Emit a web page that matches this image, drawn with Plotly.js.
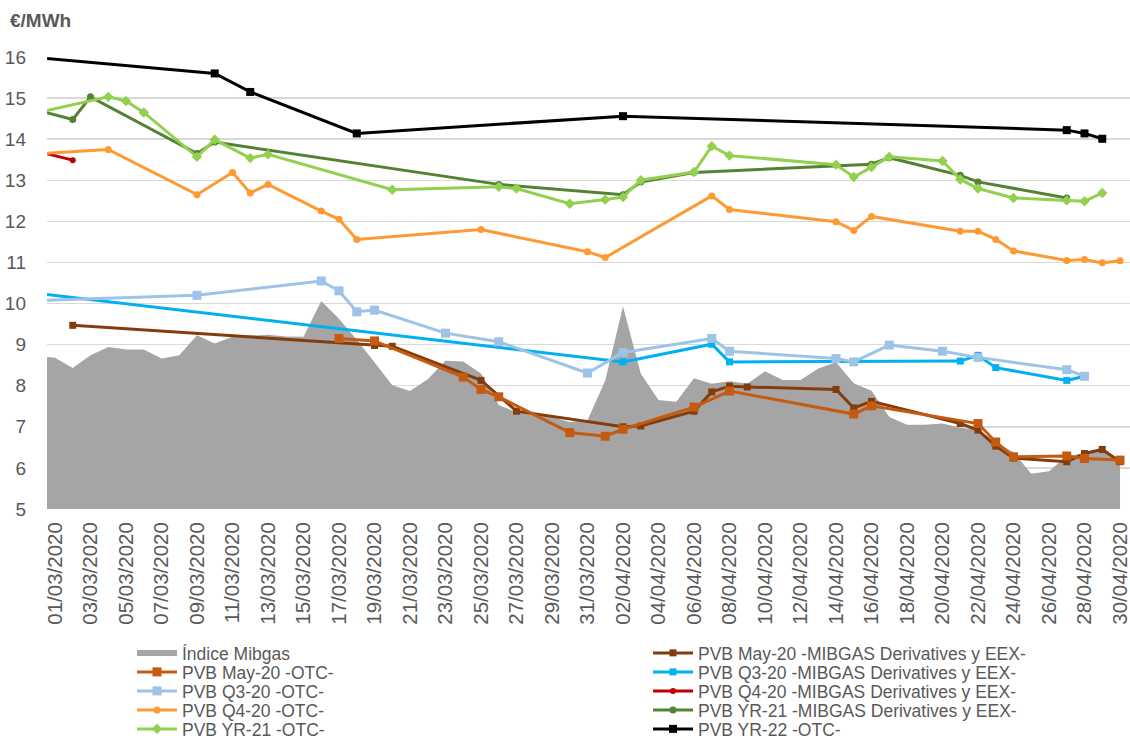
<!DOCTYPE html>
<html>
<head>
<meta charset="utf-8">
<script src="https://cdn.plot.ly/plotly-3.0.1.min.js"></script>
<style>html,body{margin:0;padding:0;background:#fff;}#chart{width:1130px;height:742px;}</style>
</head>
<body>
<div id="chart"></div>
<script>
// ---- Data ----
const mibgasDates = ['2020-02-29','2020-03-01','2020-03-02','2020-03-03','2020-03-04','2020-03-05','2020-03-06','2020-03-07','2020-03-08','2020-03-09','2020-03-10','2020-03-11','2020-03-12','2020-03-13','2020-03-14','2020-03-15','2020-03-16','2020-03-17','2020-03-18','2020-03-19','2020-03-20','2020-03-21','2020-03-22','2020-03-23','2020-03-24','2020-03-25','2020-03-26','2020-03-27','2020-03-28','2020-03-29','2020-03-30','2020-03-31','2020-04-01','2020-04-02','2020-04-03','2020-04-04','2020-04-05','2020-04-06','2020-04-07','2020-04-08','2020-04-09','2020-04-10','2020-04-11','2020-04-12','2020-04-13','2020-04-14','2020-04-15','2020-04-16','2020-04-17','2020-04-18','2020-04-19','2020-04-20','2020-04-21','2020-04-22','2020-04-23','2020-04-24','2020-04-25','2020-04-26','2020-04-27','2020-04-28','2020-04-29','2020-04-30'];
const mibgasValues = [8.72,8.68,8.43,8.74,8.94,8.88,8.88,8.66,8.74,9.23,9.03,9.19,9.22,9.24,9.20,9.19,10.06,9.63,9.12,8.57,8.01,7.87,8.16,8.61,8.59,8.30,7.53,7.36,7.32,7.24,7.12,7.16,8.13,9.93,8.30,7.65,7.61,8.18,8.05,8.11,8.05,8.35,8.14,8.14,8.42,8.57,8.06,7.88,7.24,7.05,7.05,7.08,6.98,6.93,6.63,6.38,5.86,5.92,6.29,6.35,6.40,6.21];

const may20MibgasDates = ['2020-03-02','2020-03-19','2020-03-20','2020-03-25','2020-03-27','2020-04-02','2020-04-03','2020-04-06','2020-04-07','2020-04-08','2020-04-09','2020-04-14','2020-04-15','2020-04-16','2020-04-21','2020-04-22','2020-04-23','2020-04-24','2020-04-27','2020-04-28','2020-04-29','2020-04-30'];
const may20MibgasValues = [9.47,8.98,8.96,8.13,7.38,7.00,7.02,7.38,7.85,7.99,7.97,7.91,7.46,7.62,7.08,6.92,6.53,6.24,6.15,6.35,6.45,6.15];

const q320MibgasDates = ['2020-02-28','2020-04-02','2020-04-07','2020-04-08','2020-04-21','2020-04-22','2020-04-23','2020-04-27','2020-04-28'];
const q320MibgasValues = [10.30,8.58,9.01,8.58,8.60,8.74,8.44,8.13,8.23];

const q420MibgasDates = ['2020-02-28','2020-03-02'];
const q420MibgasValues = [13.81,13.49];

const yr21MibgasDates = ['2020-02-28','2020-03-02','2020-03-03','2020-03-09','2020-03-10','2020-03-26','2020-04-02','2020-04-03','2020-04-06','2020-04-16','2020-04-17','2020-04-21','2020-04-22','2020-04-27'];
const yr21MibgasValues = [14.82,14.48,15.03,13.65,13.93,12.90,12.65,12.96,13.19,13.39,13.55,13.12,12.96,12.57];

const may20OtcDates = ['2020-03-17','2020-03-19','2020-03-24','2020-03-25','2020-03-26','2020-03-30','2020-04-01','2020-04-02','2020-04-06','2020-04-08','2020-04-15','2020-04-16','2020-04-22','2020-04-23','2020-04-24','2020-04-27','2020-04-28','2020-04-30'];
const may20OtcValues = [9.15,9.09,8.21,7.91,7.73,6.86,6.77,6.94,7.48,7.87,7.31,7.51,7.08,6.63,6.27,6.29,6.23,6.19];

const q320OtcDates = ['2020-02-28','2020-03-09','2020-03-16','2020-03-17','2020-03-18','2020-03-19','2020-03-23','2020-03-26','2020-03-31','2020-04-02','2020-04-07','2020-04-08','2020-04-14','2020-04-15','2020-04-17','2020-04-20','2020-04-22','2020-04-27','2020-04-28'];
const q320OtcValues = [10.06,10.20,10.55,10.31,9.80,9.84,9.28,9.07,8.31,8.81,9.15,8.84,8.66,8.58,8.99,8.84,8.69,8.39,8.23];

const q420OtcDates = ['2020-02-28','2020-03-04','2020-03-09','2020-03-11','2020-03-12','2020-03-13','2020-03-16','2020-03-17','2020-03-18','2020-03-25','2020-03-31','2020-04-01','2020-04-07','2020-04-08','2020-04-14','2020-04-15','2020-04-16','2020-04-21','2020-04-22','2020-04-23','2020-04-24','2020-04-27','2020-04-28','2020-04-29','2020-04-30'];
const q420OtcValues = [13.62,13.75,12.65,13.19,12.69,12.90,12.25,12.05,11.56,11.80,11.26,11.12,12.62,12.29,11.99,11.78,12.12,11.76,11.76,11.56,11.28,11.05,11.07,10.99,11.04];

const yr21OtcDates = ['2020-02-28','2020-03-04','2020-03-05','2020-03-06','2020-03-09','2020-03-10','2020-03-12','2020-03-13','2020-03-20','2020-03-26','2020-03-27','2020-03-30','2020-04-01','2020-04-02','2020-04-03','2020-04-06','2020-04-07','2020-04-08','2020-04-14','2020-04-15','2020-04-16','2020-04-17','2020-04-20','2020-04-21','2020-04-22','2020-04-24','2020-04-27','2020-04-28','2020-04-29'];
const yr21OtcValues = [14.55,15.03,14.93,14.65,13.57,13.99,13.54,13.63,12.77,12.84,12.80,12.43,12.53,12.59,13.00,13.20,13.83,13.60,13.38,13.08,13.32,13.57,13.47,13.02,12.80,12.57,12.51,12.49,12.69];

const yr22OtcDates = ['2020-02-28','2020-03-10','2020-03-12','2020-03-18','2020-04-02','2020-04-27','2020-04-28','2020-04-29'];
const yr22OtcValues = [16.02,15.60,15.15,14.14,14.56,14.22,14.14,14.01];

const yTickValues = [5,6,7,8,9,10,11,12,13,14,15,16];

// ---- Traces ----
function lineTrace(name, x, y, color, symbol, msize, legend) {
  return {
    type: 'scatter', mode: 'lines+markers', name: name, x: x, y: y,
    line: {color: color, width: 3},
    marker: {color: color, symbol: symbol, size: msize, line: {width: 0}},
    legend: legend
  };
}

const traces = [
  {type:'scatter', mode:'none', name:'Índice Mibgas', x: mibgasDates, y: mibgasValues,
   fill:'tozeroy', fillcolor:'#A5A5A5', legend:'legend'},
  lineTrace('PVB May-20 -MIBGAS Derivatives y EEX-', may20MibgasDates, may20MibgasValues, '#843C0C', 'square', 7, 'legend6'),
  lineTrace('PVB Q3-20 -MIBGAS Derivatives y EEX-', q320MibgasDates, q320MibgasValues, '#00B0F0', 'square', 7, 'legend7'),
  lineTrace('PVB Q4-20 -MIBGAS Derivatives y EEX-', q420MibgasDates, q420MibgasValues, '#C00000', 'circle', 6, 'legend8'),
  lineTrace('PVB YR-21 -MIBGAS Derivatives y EEX-', yr21MibgasDates, yr21MibgasValues, '#548235', 'circle', 7, 'legend9'),
  lineTrace('PVB May-20 -OTC-', may20OtcDates, may20OtcValues, '#C55A11', 'square', 9, 'legend2'),
  lineTrace('PVB Q3-20 -OTC-', q320OtcDates, q320OtcValues, '#9DC3E6', 'square', 9, 'legend3'),
  lineTrace('PVB Q4-20 -OTC-', q420OtcDates, q420OtcValues, '#FF9933', 'circle', 7, 'legend4'),
  lineTrace('PVB YR-21 -OTC-', yr21OtcDates, yr21OtcValues, '#92D050', 'diamond', 8, 'legend5'),
  lineTrace('PVB YR-22 -OTC-', yr22OtcDates, yr22OtcValues, '#000000', 'square', 8, 'legend10')
];

const fontFam = 'Liberation Sans, Arial, sans-serif';
const legendFont = {family: fontFam, size: 17.5, color: '#595959'};
function legendBox(xPx, topPx) {
  return {
    xref: 'container', yref: 'container',
    x: xPx / 1130, xanchor: 'left', y: 1 - topPx / 742, yanchor: 'top',
    orientation: 'v', itemwidth: 40, bgcolor: 'rgba(0,0,0,0)',
    font: legendFont
  };
}

const layout = {
  width: 1130, height: 742,
  margin: {l: 47, r: 0, t: 57, b: 233, pad: 0, autoexpand: false},
  paper_bgcolor: '#ffffff', plot_bgcolor: '#ffffff',
  showlegend: true,
  title: {text: '<b>€/MWh</b>', x: 10/1130, xanchor: 'left', xref: 'container',
          y: 1 - 20/742, yanchor: 'middle', yref: 'container',
          font: {family: fontFam, size: 19, color: '#595959'}},
  xaxis: {
    type: 'date', automargin: false,
    range: ['2020-02-29 13:12', '2020-04-30 13:30'],
    tick0: '2020-03-01', dtick: 2*86400000,
    tickformat: '%d/%m/%Y', tickangle: -90,
    tickfont: {family: fontFam, size: 20.5, color: '#595959'},
    showgrid: false, zeroline: false, showline: false, ticks: '',
    ticklabelstandoff: 8, ticklabeloverflow: 'allow'
  },
  yaxis: {
    range: [5, 16], tickvals: yTickValues, automargin: false,
    tickfont: {family: fontFam, size: 19, color: '#595959'},
    showgrid: true, gridcolor: '#D9D9D9', gridwidth: 1.5,
    zeroline: false, showline: false, ticks: '',
    ticklabelstandoff: 20
  },
  legend: legendBox(132, 635),
  legend2: legendBox(132, 654),
  legend3: legendBox(132, 673),
  legend4: legendBox(132, 692),
  legend5: legendBox(132, 711),
  legend6: legendBox(648, 635),
  legend7: legendBox(648, 654),
  legend8: legendBox(648, 673),
  legend9: legendBox(648, 692),
  legend10: legendBox(648, 711)
};

Plotly.newPlot('chart', traces, layout, {displayModeBar: false, staticPlot: true});
</script>
</body>
</html>
